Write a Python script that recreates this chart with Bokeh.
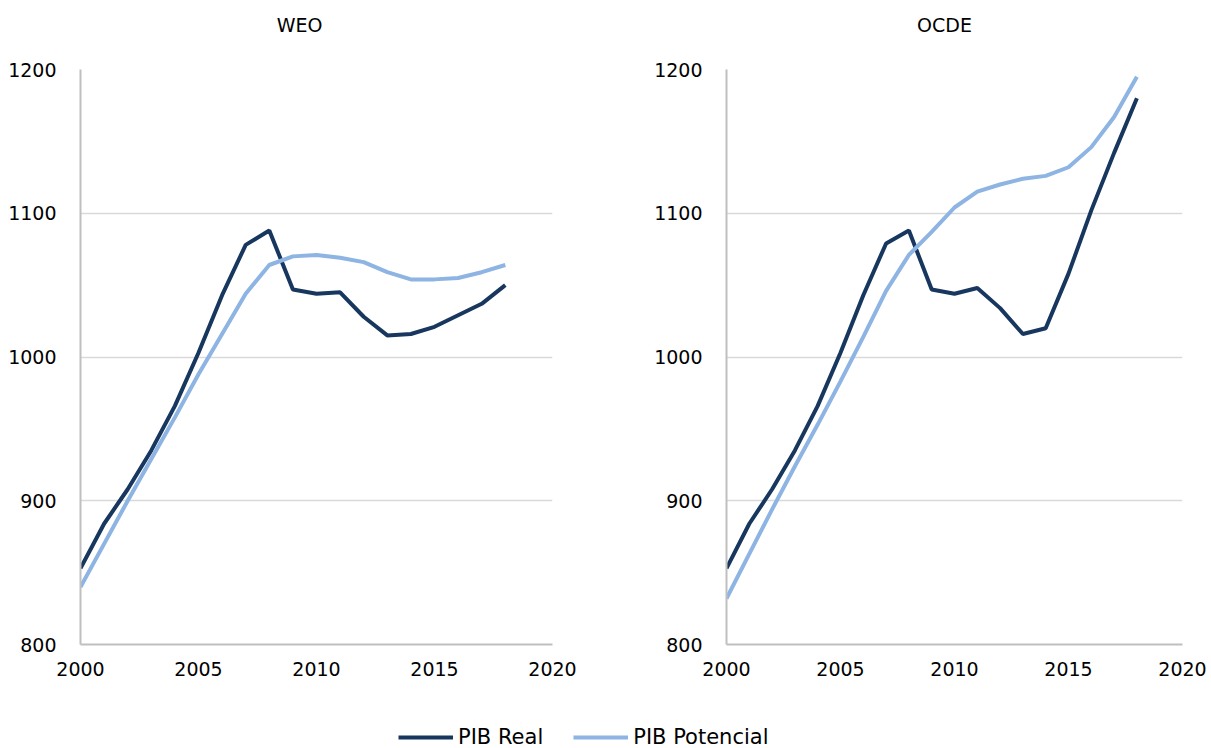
from bokeh.plotting import figure
from bokeh.models import Range1d, FixedTicker, Legend, LegendItem, Label
from bokeh.layouts import column, row
from bokeh.embed import file_html
from bokeh.resources import INLINE

years = list(range(2000, 2019))
weo_real = [853, 884, 908, 935, 966, 1003, 1043, 1078, 1088, 1047, 1044, 1045, 1028, 1015, 1016, 1021, 1029, 1037, 1050]
weo_pot = [840, 870, 900, 929, 958, 988, 1016, 1044, 1064, 1070, 1071, 1069, 1066, 1059, 1054, 1054, 1055, 1059, 1064]
ocde_real = [853, 884, 908, 935, 966, 1003, 1043, 1079, 1088, 1047, 1044, 1048, 1034, 1016, 1020, 1058, 1102, 1142, 1180]
ocde_pot = [832, 863, 894, 924, 953, 983, 1014, 1046, 1071, 1087, 1104, 1115, 1120, 1124, 1126, 1132, 1146, 1167, 1195]
x_ticks = [2000, 2005, 2010, 2015, 2020]
y_ticks = [800, 900, 1000, 1100, 1200]
titles = ["WEO", "OCDE"]
series_names = ["PIB Real", "PIB Potencial"]

DARK = "#17375E"
LIGHT = "#8DB4E2"
FONT = "DejaVu Sans"
HEAD_H = 45
H = 655


def blank_fig(width, height):
    f = figure(width=width, height=height, x_range=Range1d(0, 1), y_range=Range1d(0, 1),
               output_backend="svg", toolbar_location=None, x_axis_type=None, y_axis_type=None,
               min_border=0)
    f.outline_line_color = None
    f.xgrid.grid_line_color = None
    f.ygrid.grid_line_color = None
    return f


def make_panel(real, pot, width, left, right):
    p = figure(width=width, height=H, x_range=Range1d(2000, 2020), y_range=Range1d(800, 1200),
               output_backend="svg", toolbar_location=None,
               min_border_left=left, min_border_right=right, min_border_top=69 - HEAD_H,
               min_border_bottom=56)
    p.outline_line_color = None
    p.line(years, real, line_color=DARK, line_width=4)
    p.line(years, pot, line_color=LIGHT, line_width=4)
    for ax in (p.xaxis[0], p.yaxis[0]):
        ax.axis_line_color = "#bfbfbf"
        ax.axis_line_width = 2
        ax.major_tick_line_color = None
        ax.minor_tick_line_color = None
        ax.major_tick_out = 0
        ax.major_tick_in = 0
        ax.minor_tick_out = 0
        ax.minor_tick_in = 0
        ax.major_label_text_font = FONT
        ax.major_label_text_font_size = "19px"
        ax.major_label_text_color = "#000000"
    p.xaxis[0].ticker = FixedTicker(ticks=x_ticks)
    p.yaxis[0].ticker = FixedTicker(ticks=y_ticks)
    p.xaxis[0].major_label_standoff = 17
    p.yaxis[0].major_label_standoff = 24
    p.xgrid.grid_line_color = None
    p.ygrid.grid_line_color = "#d9d9d9"
    p.ygrid.grid_line_width = 1.5
    p.ygrid.ticker = FixedTicker(ticks=y_ticks)
    return p


head = blank_fig(1211, HEAD_H)
head.rect([-2], [-2], 0.1, 0.1, alpha=0)
for t, cx in zip(titles, [299, 944]):
    head.add_layout(Label(x=cx, y=HEAD_H - 24.5, x_units="screen", y_units="screen", text=t,
                          text_align="center", text_baseline="middle", text_font=FONT,
                          text_font_size="19px", text_color="#000000"))

p1 = make_panel(weo_real, weo_pot, 600, 80, 48)
p2 = make_panel(ocde_real, ocde_pot, 611, 126, 29)

pl = blank_fig(1211, 48)
r1 = pl.line([-2, -1], [-2, -2], line_color=DARK, line_width=4)
r2 = pl.line([-2, -1], [-2, -2], line_color=LIGHT, line_width=4)
leg = Legend(items=[LegendItem(label=series_names[0], renderers=[r1]),
                    LegendItem(label=series_names[1], renderers=[r2])],
             orientation="horizontal", location=(398, -1), padding=0, margin=0,
             glyph_width=55, glyph_height=20, label_height=20, label_standoff=5, spacing=30,
             label_text_font=FONT, label_text_font_size="21px", label_text_color="#000000",
             border_line_color=None, background_fill_alpha=0)
pl.add_layout(leg, "center")

layout = column(head, row(p1, p2), pl)
open("out.html", "w").write(file_html(layout, INLINE))
